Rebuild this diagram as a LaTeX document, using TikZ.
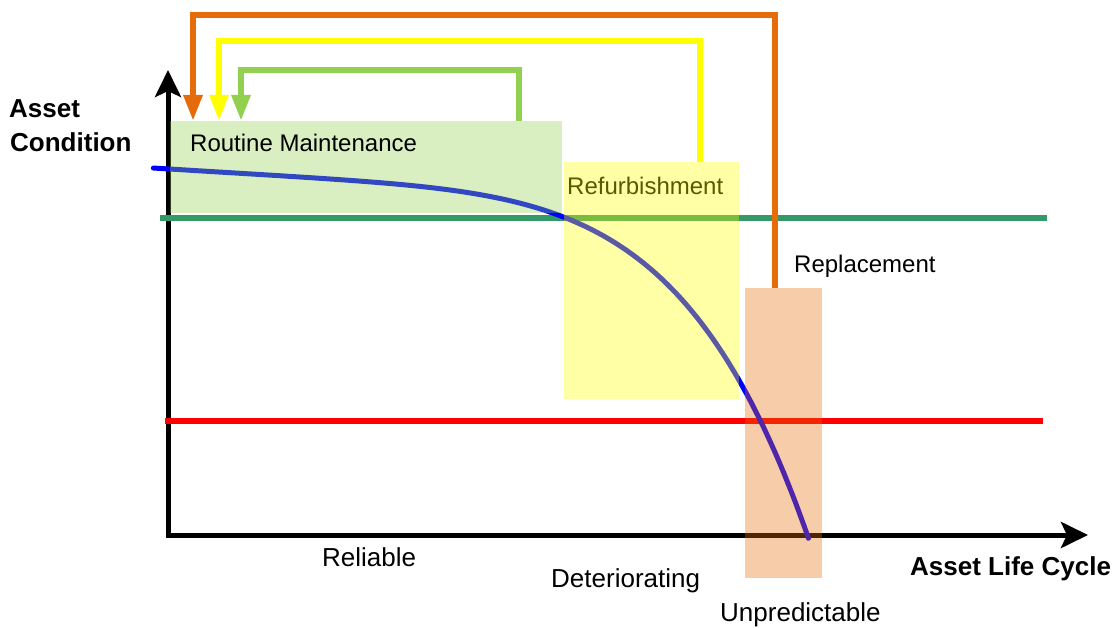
\documentclass[tikz,border=0pt]{standalone}
\usepackage{fontspec}
\setmainfont{Liberation Sans}
\usetikzlibrary{arrows.meta}
\definecolor{rmgreen}{HTML}{92D050}
\definecolor{rfyellow}{HTML}{FFFF00}
\definecolor{rporange}{HTML}{E46C0A}
\definecolor{limitgreen}{HTML}{339966}
\definecolor{limitred}{HTML}{FF0000}
\definecolor{curveblue}{HTML}{0000FF}
\begin{document}
\begin{tikzpicture}[x=1pt,y=-1pt,
  zone/.style={draw=none,inner sep=0pt,outer sep=0pt,fill opacity=0.35,anchor=north west},
  lbl/.style={inner sep=0pt,anchor=base west,font=\fontsize{24}{28}\selectfont},
  phase/.style={inner sep=0pt,anchor=base west,font=\fontsize{26}{30}\selectfont},
  axislbl/.style={inner sep=0pt,anchor=base west,font=\fontsize{26}{30}\selectfont\bfseries},
  axisline/.style={line width=5pt,black,{Stealth[width=26pt,length=27pt,inset=6pt]}-{Stealth[width=26pt,length=27pt,inset=6pt]}},
  limit/.style={line width=6pt},
  feedback/.style={line width=6pt,-{Triangle[width=18pt,length=26pt]}},
  lifecurve/.style={line width=5pt,curveblue,line cap=round,line join=round}]
\useasboundingbox (0,0) rectangle (1117,628);

% axes
\draw[axisline] (168,70) -- (168,535) -- (1088,535);

% condition thresholds
\draw[limit,limitgreen] (160,218) -- (1047,218);
\draw[limit,limitred] (165,421) -- (1043,421);

% deterioration curve: slow linear decline plus a steep power-law drop
\draw[lifecurve] plot[domain=0.0005:1,samples=160,variable=\u]
  ({153+657*\u},{168+40*\u+335*(\u)^5.6});

% text lying beneath the translucent zone
\node[lbl,text=black] (rflbl) at (567,195) {Refurbishment};

% intervention zones
\node[zone,fill=rmgreen,minimum width=392pt,minimum height=92pt] (rm) at (170,121) {};
\node[zone,fill=rfyellow,minimum width=175pt,minimum height=237pt] (rf) at (564,162) {};
\node[zone,fill=rporange,minimum width=77pt,minimum height=290pt] (rp) at (745,288) {};

% feedback loops back to routine maintenance
\draw[feedback,rporange] ([xshift=30pt]rp.north west) -- ++(0,-273) -| ([xshift=23pt]rm.north west);
\draw[feedback,rfyellow] ([xshift=136pt]rf.north west) -- ++(0,-121) -| ([xshift=49pt]rm.north west);
\draw[feedback,rmgreen] ([xshift=349pt]rm.north west) -- ++(0,-51) -| ([xshift=71pt]rm.north west);

% labels
\node[lbl] (rmlbl) at (190,152) {Routine Maintenance};
\node[lbl] (rplbl) at (794,273) {Replacement};
\node[axislbl] (yl1) at (9,118) {Asset};
\node[axislbl] (yl2) at (10,152) {Condition};
\node[axislbl] (xl) at (910,575) {Asset Life Cycle};
\node[phase] (p1) at (322,566) {Reliable};
\node[phase] (p2) at (551,587) {Deteriorating};
\node[phase] (p3) at (720,621) {Unpredictable};
\end{tikzpicture}
\end{document}
